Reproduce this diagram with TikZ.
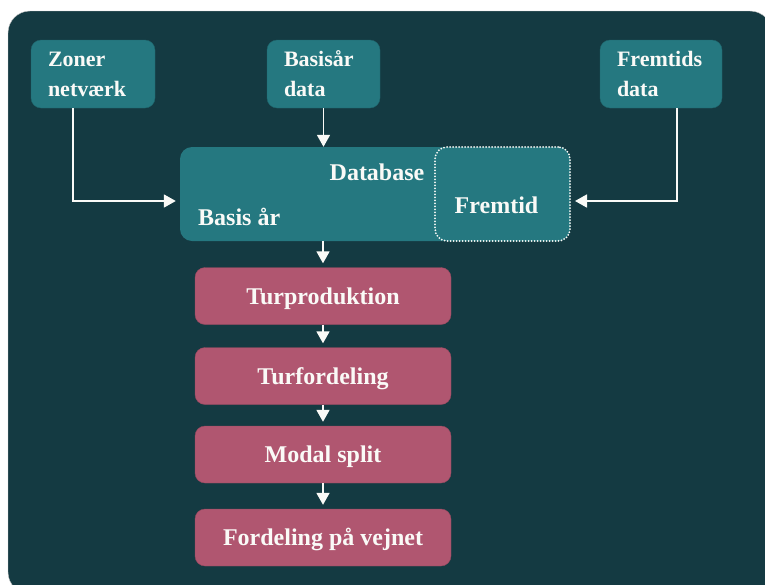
\documentclass[tikz,border=0pt]{standalone}
\usepackage{fontspec}
\setmainfont{Liberation Serif}
\usetikzlibrary{arrows.meta}
\usetikzlibrary{calc}

\definecolor{bgteal}{RGB}{20,58,66}
\definecolor{boxteal}{RGB}{37,120,128}
\definecolor{boxpink}{RGB}{176,86,112}
\definecolor{txtwhite}{RGB}{250,250,247}

\begin{document}
\begin{tikzpicture}[x=1pt,y=-1pt,
    inbox/.style={fill=boxteal, draw=boxteal!85!black, rounded corners=10pt, text=txtwhite,
      font=\bfseries\fontsize{22}{30}\selectfont, align=left, inner xsep=17pt, inner ysep=0pt,
      minimum height=68pt, text width=#1},
    dbbox/.style={fill=boxteal, rounded corners=12pt, minimum height=94pt},
    dbtext/.style={text=txtwhite, font=\bfseries\fontsize{24}{28}\selectfont, inner sep=0pt},
    stepbox/.style={fill=boxpink, draw=boxpink!85!black, rounded corners=10pt, text=txtwhite,
      font=\bfseries\fontsize{24}{28}\selectfont, minimum width=256pt, minimum height=57pt,
      text height=16pt, text depth=0pt},
    arr/.style={draw=txtwhite, line width=1.8pt, shorten >=4pt, -{Triangle[length=12pt,width=13pt]}}]

          \useasboundingbox (0,0) rectangle (765,584);
          \fill [bgteal, draw=gray!40, rounded corners=22pt] (8,11) rectangle (772,594); % background

          % input boxes
          \node [inbox=90pt] (zoner) at (93,74) {Zoner\\netværk};
          \node [inbox=79pt] (basisdata) at (323.5,74) {Basisår\\data};
          \node [inbox=88pt] (fremdata) at (661,74) {Fremtids\\data};

          % database
          \node [dbbox, minimum width=390pt] (db) at (375,194) {};
          \node [dbbox, minimum width=135pt, draw=txtwhite, line width=2pt, line cap=round, dash pattern=on 0pt off 3pt] (future) at (502.5,194) {};
          \node [dbtext, anchor=base] (dbname) at (377,180) {Database};
          \node [dbtext, anchor=base west] (basisaar) at (198,225) {Basis år};
          \node [dbtext, anchor=base] (futname) at (496.5,213) {Fremtid};

          % model steps
          \node [stepbox] (turprod) at (323,296) {Turproduktion};
          \node [stepbox] (turford) at (323,376) {Turfordeling};
          \node [stepbox] (modal) at (323,454.5) {Modal split};
          \node [stepbox] (vejnet) at (323,537.5) {Fordeling på vejnet};

          \draw [arr] ([xshift=-20pt]zoner.south) |- ([yshift=-7pt]db.west);
          \draw [arr, shorten >=0pt] (basisdata.south) -- (basisdata.south |- db.north);
          \draw [arr] ([xshift=16pt]fremdata.south) |- ([yshift=-7pt]future.east);
          \draw [arr] (turprod.north |- db.south) -- (turprod.north);
          \foreach \a/\b in {turprod/turford, turford/modal, modal/vejnet}
            \draw [arr] (\a) -- (\b);
        \end{tikzpicture}
\end{document}
